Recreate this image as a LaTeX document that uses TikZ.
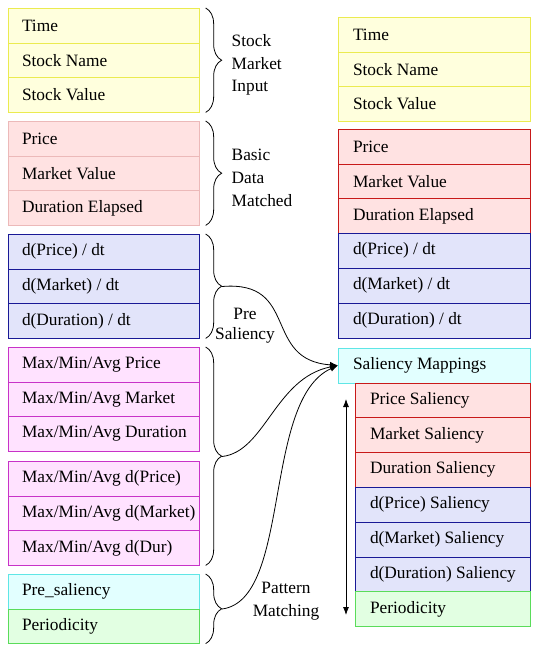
\documentclass[tikz,border=0pt]{standalone}
\usepackage{fontspec}
\setmainfont{Liberation Serif}
\usepackage{xcolor}
\usepackage{tikz}
\usetikzlibrary{arrows.meta,positioning,decorations.pathreplacing}
\definecolor{yelfill}{RGB}{255,255,221}
\definecolor{yelline}{RGB}{235,235,80}
\definecolor{pinkfill}{RGB}{255,226,226}
\definecolor{pinkline}{RGB}{236,185,185}
\definecolor{redline}{RGB}{200,25,25}
\definecolor{bluefill}{RGB}{226,228,250}
\definecolor{blueline}{RGB}{25,25,150}
\definecolor{magfill}{RGB}{255,226,255}
\definecolor{magline}{RGB}{200,50,200}
\definecolor{cyanfill}{RGB}{226,255,255}
\definecolor{cyanline}{RGB}{95,230,230}
\definecolor{greenfill}{RGB}{226,255,226}
\definecolor{greenline}{RGB}{90,220,90}

\begin{document}
\begin{tikzpicture}[
    x=0.75pt, y=-0.75pt,
    >={Latex[length=6pt,width=4.5pt]},
    font=\fontsize{13pt}{17pt}\selectfont,
    field/.style={draw, outer sep=0pt, inner ysep=0pt, minimum height=26.1pt, anchor=north west,
        execute at begin node={\hbox to #1\bgroup}, execute at end node={\hss\egroup}},
    lfield/.style={field=122.25pt, inner xsep=10.5pt},
    rfield/.style={field=121.5pt, inner xsep=11.25pt},
    sfield/.style={field=108.75pt, inner xsep=11.25pt},
    yel/.style={fill=yelfill, draw=yelline},
    pinkl/.style={fill=pinkfill, draw=pinkline},
    redb/.style={fill=pinkfill, draw=redline},
    blueb/.style={fill=bluefill, draw=blueline},
    magb/.style={fill=magfill, draw=magline},
    cyanb/.style={fill=cyanfill, draw=cyanline},
    greenb/.style={fill=greenfill, draw=greenline},
    grp/.style={decorate, decoration={brace, amplitude=12pt}, line width=0.6pt},
    grplabel/.style={align=left, anchor=west},
    link/.style={->, line width=0.6pt}
]
\useasboundingbox (0,0) rectangle (535,650);

% left column
\node[lfield, yel] (lTime) at (8,8) {Time};
\node[lfield, yel, below=0pt of lTime] (lName) {Stock Name};
\node[lfield, yel, below=0pt of lName] (lValue) {Stock Value};

\node[lfield, pinkl] (lPrice) at (8,121) {Price};
\node[lfield, pinkl, below=0pt of lPrice] (lMarket) {Market Value};
\node[lfield, pinkl, below=0pt of lMarket] (lDur) {Duration Elapsed};

\node[lfield, blueb] (ldPrice) at (8,234) {d(Price) / dt};
\node[lfield, blueb, below=0pt of ldPrice] (ldMarket) {d(Market) / dt};
\node[lfield, blueb, below=0pt of ldMarket] (ldDur) {d(Duration) / dt};

\node[lfield, magb] (lMaxP) at (8,347) {Max/Min/Avg Price};
\node[lfield, magb, below=0pt of lMaxP] (lMaxM) {Max/Min/Avg Market};
\node[lfield, magb, below=0pt of lMaxM] (lMaxD) {Max/Min/Avg Duration};

\node[lfield, magb] (lMaxdP) at (8,461) {Max/Min/Avg d(Price)};
\node[lfield, magb, below=0pt of lMaxdP] (lMaxdM) {Max/Min/Avg d(Market)};
\node[lfield, magb, below=0pt of lMaxdM] (lMaxdD) {Max/Min/Avg d(Dur)};

\node[lfield, cyanb] (lPre) at (8,574) {Pre\_saliency};
\node[lfield, greenb, below=0pt of lPre] (lPer) {Periodicity};

% right column
\node[rfield, yel] (rTime) at (338,17) {Time};
\node[rfield, yel, below=0pt of rTime] (rName) {Stock Name};
\node[rfield, yel, below=0pt of rName] (rValue) {Stock Value};

\node[rfield, redb] (rPrice) at (338,129) {Price};
\node[rfield, redb, below=0pt of rPrice] (rMarket) {Market Value};
\node[rfield, redb, below=0pt of rMarket] (rDur) {Duration Elapsed};
\node[rfield, blueb, below=0pt of rDur] (rdPrice) {d(Price) / dt};
\node[rfield, blueb, below=0pt of rdPrice] (rdMarket) {d(Market) / dt};
\node[rfield, blueb, below=0pt of rdMarket] (rdDur) {d(Duration) / dt};

\node[rfield, cyanb] (smap) at (338,348) {Saliency Mappings};
\node[sfield, redb, anchor=north east] (sPrice) at (smap.south east) {Price Saliency};
\node[sfield, redb, below=0pt of sPrice] (sMarket) {Market Saliency};
\node[sfield, redb, below=0pt of sMarket] (sDur) {Duration Saliency};
\node[sfield, blueb, below=0pt of sDur] (sdPrice) {d(Price) Saliency};
\node[sfield, blueb, below=0pt of sdPrice] (sdMarket) {d(Market) Saliency};
\node[sfield, blueb, below=0pt of sdMarket] (sdDur) {d(Duration) Saliency};
\node[sfield, greenb, below=0pt of sdDur] (sPer) {Periodicity};

% braces
\draw[grp] ([xshift=5pt]lTime.north east) -- ([xshift=5pt]lValue.south east);
\draw[grp] ([xshift=5pt]lPrice.north east) -- ([xshift=5pt]lDur.south east);
\draw[grp] ([xshift=5pt]ldPrice.north east) -- ([xshift=5pt]ldDur.south east);
\draw[grp] ([xshift=5pt]lMaxP.north east) -- ([xshift=5pt]lMaxdD.south east);
\draw[grp] ([xshift=5pt]lPre.north east) -- ([xshift=5pt]lPer.south east);

\coordinate (tipPre) at (222,286.5);
\coordinate (tipMax) at (222,456.5);
\coordinate (tipPat) at (222,609);

\node[grplabel] (lblInput) at (227,65) {Stock\\Market\\Input};
\node[grplabel] (lblBasic) at (227,178) {Basic\\Data\\Matched};
\node[align=center, font=\fontsize{13pt}{15pt}\selectfont] (lblPre) at (245,326) {Pre\\Saliency};
\node[align=center] (lblPattern) at (286,601) {Pattern\\Matching};

% connectors
\draw[link] (tipPre) .. controls (300,280) and (262,360) .. (smap.west);
\draw[link] (tipMax) .. controls (265,452) and (275,378) .. (smap.west);
\draw[link] (tipPat) .. controls (292,600) and (262,400) .. (smap.west);

\coordinate (perTop) at (346,399);
\coordinate (perBot) at (346,615);
\draw[<->, line width=0.6pt] (perTop) -- (perBot);
\end{tikzpicture}
\end{document}
